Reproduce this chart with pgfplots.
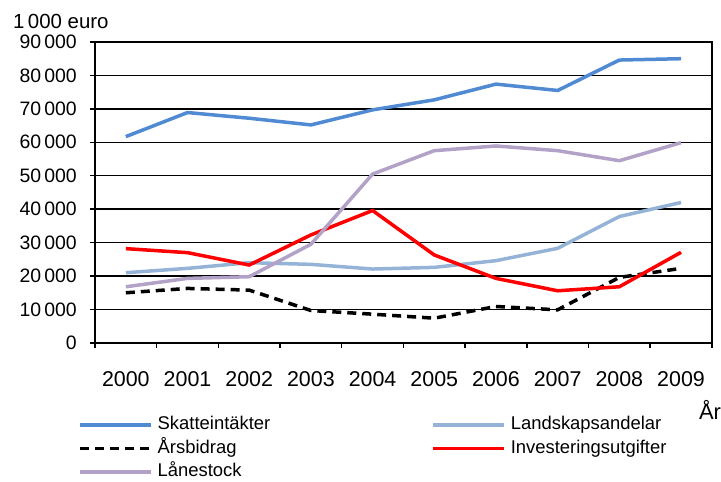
\documentclass[border=0pt]{standalone}
\usepackage{fontspec}
\setmainfont{Liberation Sans}
\usepackage{pgfplots}
\pgfplotsset{compat=1.18}
\definecolor{skatt}{RGB}{80,138,210}
\definecolor{landsk}{RGB}{149,179,215}
\definecolor{lanest}{RGB}{179,162,199}
\begin{document}
\begin{tikzpicture}
\begin{axis}[
  scale only axis,
  width=617bp, height=301bp,
  xmin=-0.5, xmax=9.5,
  ymin=0, ymax=90000,
  scaled y ticks=false,
  xtick={0,...,9},
  xticklabels={2000,2001,2002,2003,2004,2005,2006,2007,2008,2009},
  minor xtick={-0.5,0.5,...,9.5},
  ytick={0,10000,...,90000},
  yticklabels={0,10\,000,20\,000,30\,000,40\,000,50\,000,60\,000,70\,000,80\,000,90\,000},
  tick align=outside,
  major x tick style={draw=none},
  minor x tick style={black, line width=1.5bp},
  minor tick length=5bp,
  major tick length=5bp,
  y tick style={black, line width=1.5bp},
  xtick pos=bottom, ytick pos=left,
  ymajorgrids,
  grid style={black, line width=1.5bp},
  axis line style={black, line width=1.5bp},
  xticklabel style={font=\fontsize{21.5}{25}\selectfont, yshift=-20bp},
  yticklabel style={font=\fontsize{19.5}{23}\selectfont, inner sep=0pt, xshift=-13bp},
  legend columns=2,
  legend cell align=left,
  legend image code/.code={\draw[#1] (-4bp,0bp) -- (67bp,0bp);},
  legend style={draw=none, fill=none, at={(axis description cs:0,0)}, anchor=north west,
    xshift=-17bp, yshift=-72bp, inner sep=0pt, row sep=4bp,
    font=\fontsize{18.5}{21}\selectfont,
    nodes={inner sep=1bp, text height=13.5bp, text depth=4bp},
    /tikz/every odd column/.style={column sep=4bp},
    /tikz/every even column/.style={column sep=160bp}},
]
\addplot[skatt, line width=3.5bp] coordinates {(0,61700)(1,68900)(2,67200)(3,65200)(4,69700)(5,72700)(6,77400)(7,75500)(8,84600)(9,85000)};
\addlegendentry{Skatteintäkter}
\addplot[landsk, line width=3.5bp] coordinates {(0,21000)(1,22300)(2,24000)(3,23500)(4,22100)(5,22600)(6,24600)(7,28300)(8,37800)(9,42000)};
\addlegendentry{Landskapsandelar}
\addplot[black, line width=3.5bp, dash pattern=on 9bp off 6bp] coordinates {(0,15000)(1,16300)(2,15800)(3,9700)(4,8600)(5,7400)(6,10900)(7,9900)(8,19600)(9,22300)};
\addlegendentry{Årsbidrag}
\addplot[red, line width=3.5bp] coordinates {(0,28200)(1,27000)(2,23300)(3,32300)(4,39600)(5,26300)(6,19300)(7,15600)(8,16800)(9,27100)};
\addlegendentry{Investeringsutgifter}
\addplot[lanest, line width=3.5bp] coordinates {(0,16800)(1,19300)(2,19800)(3,29500)(4,50500)(5,57500)(6,58900)(7,57500)(8,54500)(9,59900)};
\addlegendentry{Lånestock}
\end{axis}
\node[anchor=base west, font=\fontsize{20.5}{24}\selectfont, inner sep=0pt] at ([xshift=-82bp,yshift=314bp]current axis.south west) {1\,000 euro};
\node[anchor=base west, font=\fontsize{22}{26}\selectfont, inner sep=0pt] at ([xshift=604bp,yshift=-77bp]current axis.south west) {År};
\path[use as bounding box] ([xshift=-95bp,yshift=-135bp]current axis.south west) rectangle ([xshift=9bp,yshift=42bp]current axis.north east);
\end{tikzpicture}
\end{document}
